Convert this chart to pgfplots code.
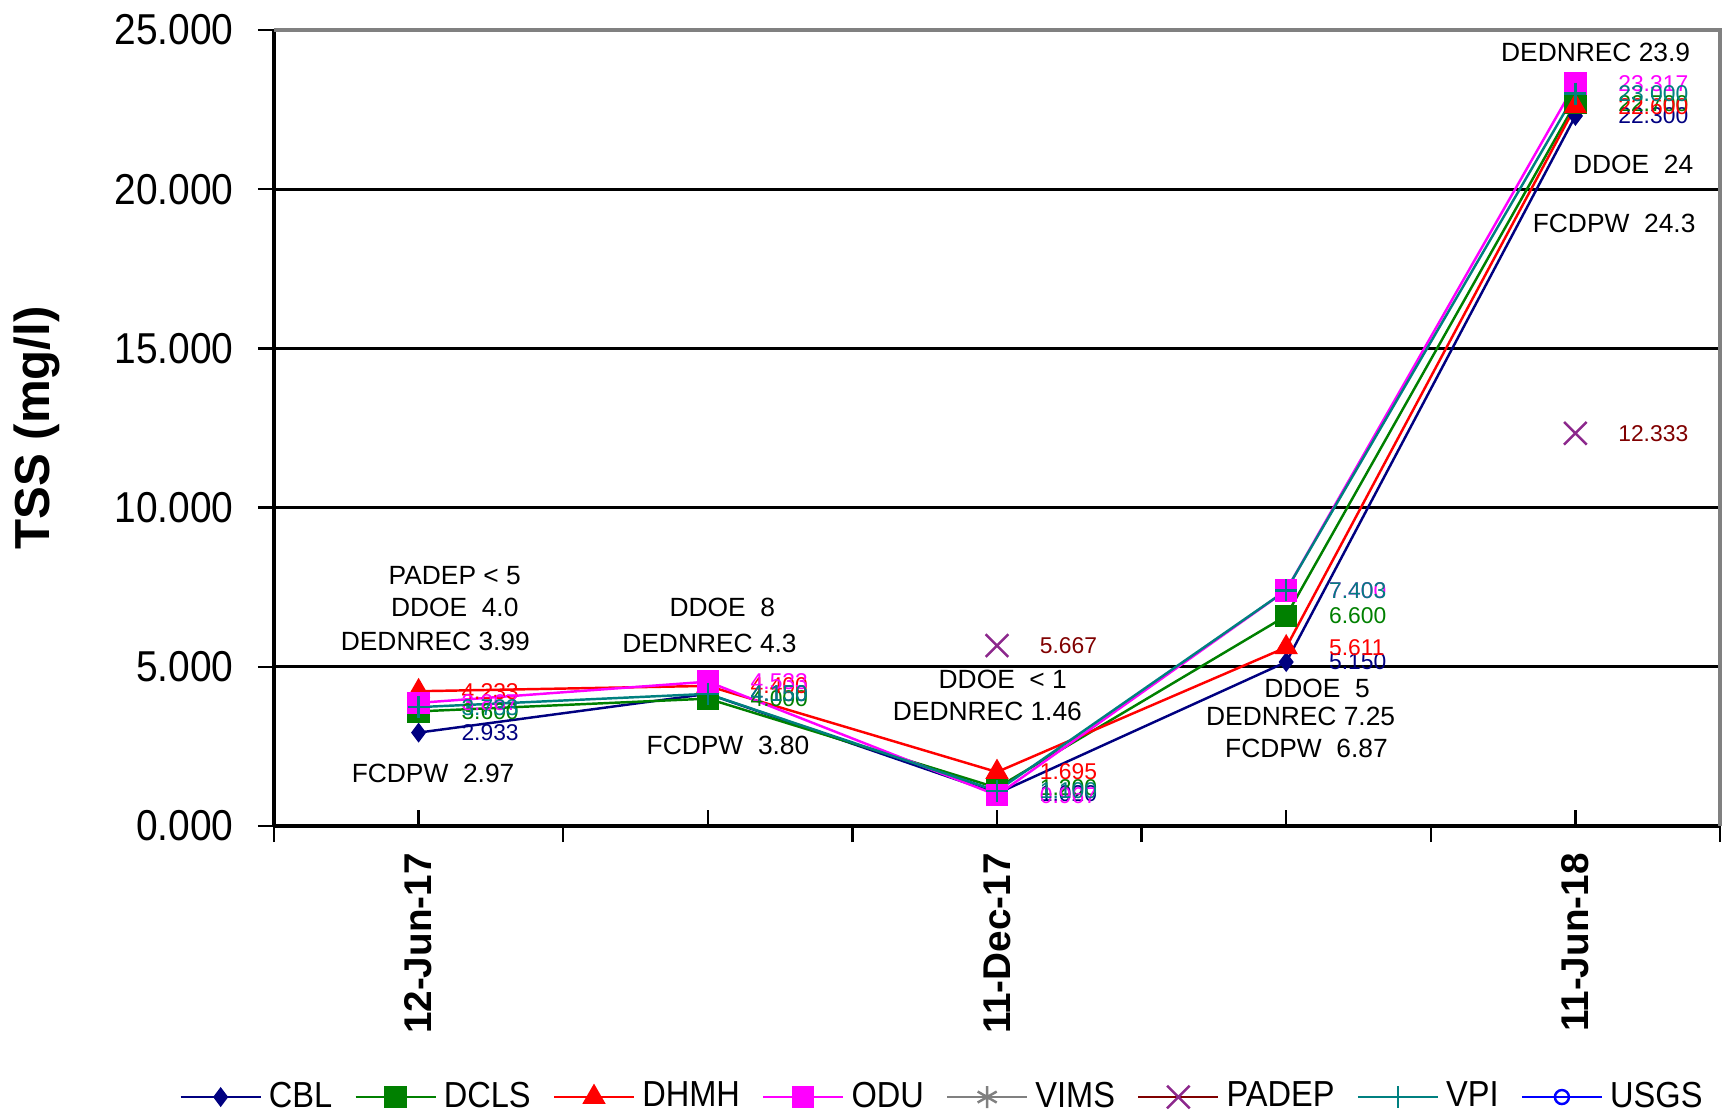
\documentclass[border=0pt]{standalone}
\usepackage{pgfplots}
\pgfplotsset{compat=1.18}
\usepackage{fontspec}
\setmainfont{Liberation Sans}
\newfontfamily\narrowfont[FakeStretch=0.9]{Liberation Sans}
\definecolor{cbl}{RGB}{0,0,128}
\definecolor{dcls}{RGB}{0,128,0}
\definecolor{dhmh}{RGB}{255,0,0}
\definecolor{odu}{RGB}{255,0,255}
\definecolor{vims}{RGB}{128,128,128}
\definecolor{padep}{RGB}{128,0,0}
\definecolor{padepmark}{RGB}{140,40,140}
\definecolor{vpi}{RGB}{0,128,128}
\definecolor{usgs}{RGB}{0,0,255}
\pgfplotsset{
  vlab/.style={
    nodes near coords={\pgfmathprintnumber[fixed,fixed zerofill,precision=3,assume math mode=true]{\pgfplotspointmeta}},
    every node near coord/.append style={anchor=west, xshift=3mm, font=\fontsize{6.5}{7}\selectfont, text=#1}
  }
}
\begin{document}
\begin{tikzpicture}
\path[use as bounding box] (-27.4mm,-29.1mm) rectangle (145.5mm,82.6mm);
\begin{axis}[
  scale only axis, width=144.6mm, height=79.6mm,
  xmin=-0.5, xmax=4.5, ymin=0, ymax=25,
  axis x line*=bottom, axis y line*=left,
  axis line style={line width=0.9pt, black, -},
  xtick={0,1,2,3,4},
  xticklabels={12-Jun-17,,11-Dec-17,,11-Jun-18},
  xtick align=inside, ytick align=outside,
  major tick length=1.6mm,
  tick style={black, line width=0.7pt},
  extra x ticks={-0.5,0.5,1.5,2.5,3.5,4.5},
  extra x tick labels={},
  extra x tick style={xtick align=outside, grid=none},
  ytick={0,5,10,15,20,25},
  ymajorgrids, grid style={black, line width=0.75pt},
  yticklabel style={font=\narrowfont\fontsize{12.3}{14}\selectfont, xshift=-1.2mm,
    /pgf/number format/fixed, /pgf/number format/fixed zerofill, /pgf/number format/precision=3},
  /pgf/number format/assume math mode=true,
  xticklabel style={rotate=90, anchor=east, font=\bfseries\fontsize{11}{13}\selectfont},
  xticklabel shift=1.5mm,
  ylabel={TSS (mg/l)},
  every axis y label/.style={at={(axis description cs:-0.164,0.5)}, anchor=center, rotate=90, font=\bfseries\fontsize{14}{16}\selectfont},
  legend columns=8,
  legend cell align=left,
  legend style={draw=none, fill=none, at={(axis description cs:0.4637,-0.3405)}, anchor=center,
    font=\narrowfont\fontsize{10.3}{12}\selectfont,
    /tikz/every even column/.append style={column sep=1.5mm}},
  legend image code/.code={\draw[mark repeat=2,mark phase=2,#1] plot coordinates {(0mm,0mm) (4mm,0mm) (8mm,0mm)};},
  clip=false,
]
\addplot[cbl, line width=0.7pt, mark=diamond*, mark size=0.8mm, mark options={solid, fill=cbl}, vlab=cbl]
  coordinates {(0,2.933) (1,4.150) (2,1.020) (3,5.150) (4,22.300)};
\addlegendentry{CBL}
\addplot[dcls, line width=0.7pt, mark=square*, mark size=1mm, mark options={solid, fill=dcls}, vlab=dcls]
  coordinates {(0,3.600) (1,4.000) (2,1.200) (3,6.600) (4,22.700)};
\addlegendentry{DCLS}
\addplot[dhmh, line width=0.7pt, mark=triangle*, mark size=1.1mm, mark options={solid, fill=dhmh}, vlab=dhmh]
  coordinates {(0,4.233) (1,4.400) (2,1.695) (3,5.611) (4,22.600)};
\addlegendentry{DHMH}
\addplot[odu, line width=0.7pt, mark=square*, mark size=1mm, mark options={solid, fill=odu}, vlab=odu]
  coordinates {(0,3.867) (1,4.533) (2,0.967) (3,7.400) (4,23.317)};
\addlegendentry{ODU}
\addlegendimage{vims, line width=0.7pt, mark=asterisk, mark size=1.1mm, mark options={solid}}
\addlegendentry{VIMS}
\addplot[padep, line width=0.7pt, mark=x, mark size=1.6mm, mark options={solid, padepmark}, unbounded coords=jump, vlab=padep]
  coordinates {(2,5.667) (3,nan) (4,12.333)};
\addlegendentry{PADEP}
\addplot[vpi, line width=0.7pt, mark=+, mark size=1.1mm, mark options={solid}, vlab=vpi]
  coordinates {(0,3.733) (1,4.150) (2,1.100) (3,7.403) (4,23.000)};
\addlegendentry{VPI}
\addlegendimage{usgs, line width=0.7pt, mark=o, mark size=0.7mm, mark options={solid}}
\addlegendentry{USGS}
\draw[vims, line width=0.9pt] (rel axis cs:0,1) -- (rel axis cs:1,1) -- (rel axis cs:1,0);
\begin{scope}[every node/.style={font=\fontsize{7.5}{9}\selectfont, inner sep=0pt}]
\node at (axis cs:0.125,7.85) {PADEP < 5};
\node at (axis cs:0.125,6.85) {DDOE\ \ 4.0};
\node at (axis cs:0.058,5.81) {DEDNREC 3.99};
\node at (axis cs:0.05,1.66) {FCDPW\ \ 2.97};
\node at (axis cs:1.05,6.85) {DDOE\ \ 8};
\node at (axis cs:1.006,5.72) {DEDNREC 4.3};
\node at (axis cs:1.07,2.53) {FCDPW\ \ 3.80};
\node at (axis cs:2.02,4.61) {DDOE\ \ < 1};
\node at (axis cs:1.967,3.61) {DEDNREC 1.46};
\node at (axis cs:3.107,4.33) {DDOE\ \ 5};
\node at (axis cs:3.05,3.45) {DEDNREC 7.25};
\node at (axis cs:3.07,2.45) {FCDPW\ \ 6.87};
\node at (axis cs:4.07,24.31) {DEDNREC 23.9};
\node at (axis cs:4.2,20.79) {DDOE\ \ 24};
\node at (axis cs:4.134,18.91) {FCDPW\ \ 24.3};
\end{scope}
\end{axis}
\end{tikzpicture}
\end{document}
